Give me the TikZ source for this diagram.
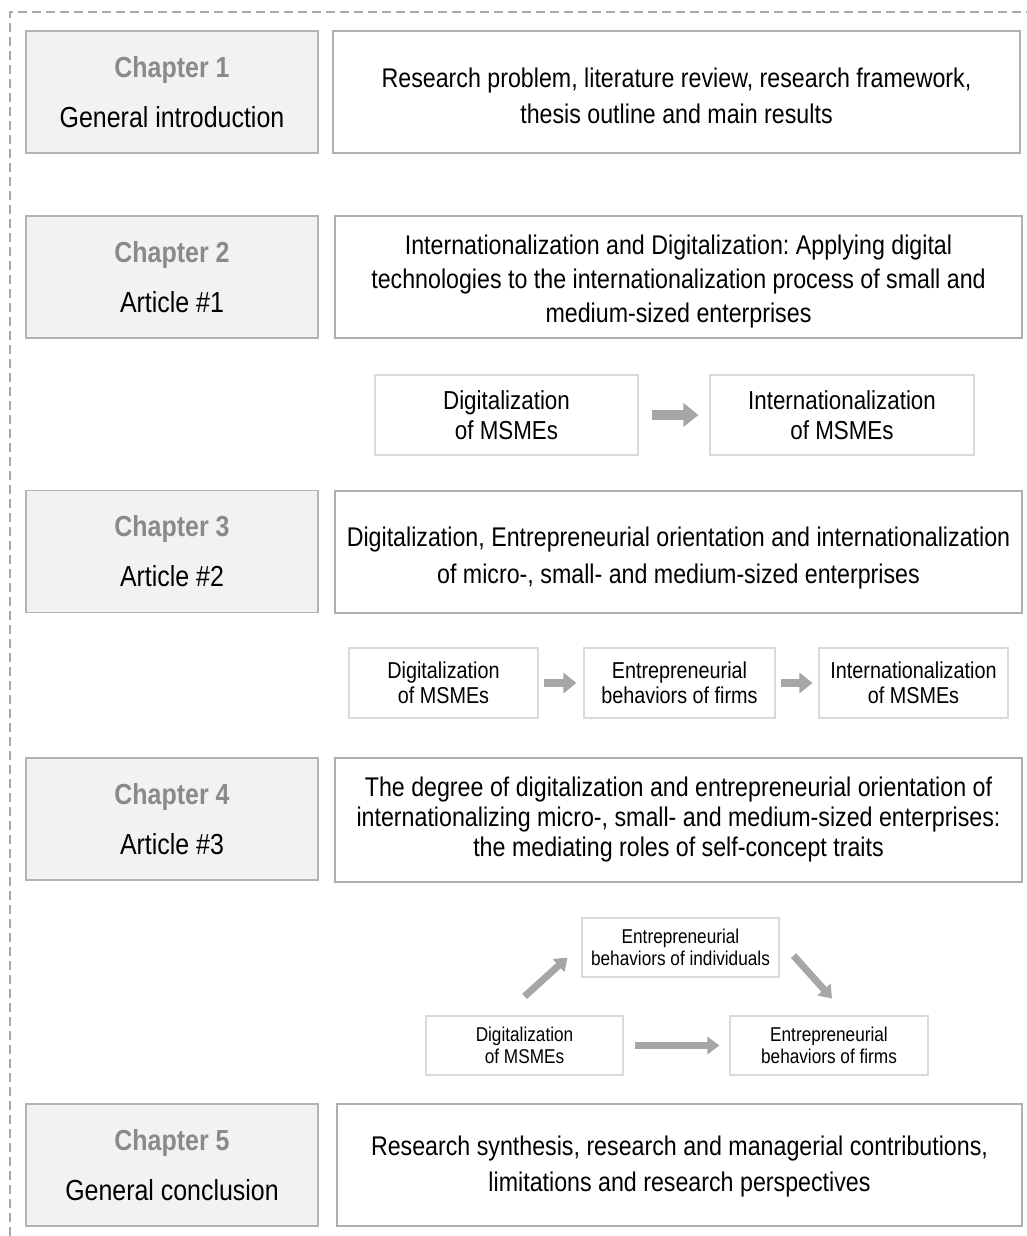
\documentclass[tikz,border=0pt]{standalone}
\usepackage{fontspec}
\setmainfont{Liberation Sans}[FakeStretch=0.86]
\usetikzlibrary{arrows.meta,calc}
\frenchspacing
\definecolor{chapfill}{HTML}{F2F2F2}
\definecolor{chapline}{HTML}{B4B4B4}
\definecolor{chaptext}{HTML}{8A8A8A}
\definecolor{boxline}{HTML}{B0B0B0}
\definecolor{smallline}{HTML}{DADADA}
\definecolor{arrowgray}{HTML}{A6A6A6}
\definecolor{framegray}{HTML}{A8A8A8}
\tikzset{
  chapbox/.style={draw=chapline, fill=chapfill, line width=1.3pt, inner sep=0pt, align=center,
    minimum width=292pt, minimum height=122pt, font=\fontsize{29}{50}\selectfont, text=black},
  mainbox/.style={draw=boxline, line width=1.3pt, inner sep=0pt, align=center,
    minimum width=687pt, minimum height=122pt, text=black},
  smallbox/.style={draw=smallline, line width=1.1pt, inner sep=0pt, align=center, text=black},
  bigarrow/.style={draw=arrowgray, line width=10pt, -{Triangle[length=15pt,width=23pt]}},
  medarrow/.style={draw=arrowgray, line width=8.5pt, -{Triangle[length=13pt,width=20pt]}},
  diagarrow/.style={draw=arrowgray, line width=7pt, -{Triangle[length=12pt,width=17pt]}},
  frameline/.style={draw=framegray, line width=1.1pt, dash pattern=on 9pt off 5pt}
}
\newcommand{\chapname}[1]{{\color{chaptext}\bfseries #1}}
\newcommand{\lift}[1]{\rule{0pt}{#1}}
\begin{document}
\begin{tikzpicture}[x=1pt,y=-1pt]
\useasboundingbox (0,0) rectangle (1027,1236);
% dashed frame
\coordinate (fbl) at (10,1236);
\coordinate (ftl) at (10,12);
\coordinate (ftr) at (1027,12);
\draw[frameline] (fbl) -- (ftl) -- (ftr);

% Chapter 1
\node[chapbox] (c1) at (172,92) {\chapname{Chapter 1}\\General introduction};
\node[mainbox, font=\fontsize{27}{36}\selectfont] (t1) at (676.5,92)
  {\lift{28pt}Research problem, literature review, research framework,\\thesis outline and main results};

% Chapter 2
\node[chapbox] (c2) at (172,277) {\chapname{Chapter 2}\\Article \#1};
\node[mainbox, font=\fontsize{27}{34}\selectfont] (t2) at (678.5,277)
  {\lift{28pt}Internationalization and Digitalization: Applying digital\\technologies to the internationalization process of small and\\medium-sized enterprises};
\node[smallbox, minimum width=263pt, minimum height=80pt, font=\fontsize{26}{30}\selectfont] (a1) at (506.5,415)
  {Digitalization\\of MSMEs};
\node[smallbox, minimum width=264pt, minimum height=80pt, font=\fontsize{26}{30}\selectfont] (a2) at (842,415)
  {Internationalization\\of MSMEs};
\draw[bigarrow, shorten <=13pt, shorten >=11pt] (a1) -- (a2);

% Chapter 3
\node[chapbox] (c3) at (172,551.5) {\chapname{Chapter 3}\\Article \#2};
\node[mainbox, font=\fontsize{27}{37}\selectfont] (t3) at (678.5,552)
  {\lift{31pt}Digitalization, Entrepreneurial orientation and internationalization\\of micro-, small- and medium-sized enterprises};
\node[smallbox, minimum width=189pt, minimum height=70pt, font=\fontsize{23}{25}\selectfont] (b1) at (443.5,683)
  {Digitalization\\of MSMEs};
\node[smallbox, minimum width=191pt, minimum height=70pt, font=\fontsize{23}{25}\selectfont] (b2) at (679.5,683)
  {Entrepreneurial\\behaviors of firms};
\node[smallbox, minimum width=189pt, minimum height=70pt, font=\fontsize{23}{25}\selectfont] (b3) at (913.5,683)
  {Internationalization\\of MSMEs};
\draw[medarrow, shorten <=5pt, shorten >=7pt] (b1) -- (b2);
\draw[medarrow, shorten <=5pt, shorten >=6pt] (b2) -- (b3);

% Chapter 4
\node[chapbox] (c4) at (172,819) {\chapname{Chapter 4}\\Article \#3};
\node[mainbox, minimum height=124pt, font=\fontsize{27}{30}\selectfont] (t4) at (678.5,820)
  {The degree of digitalization and entrepreneurial orientation of\\internationalizing micro-, small- and medium-sized enterprises:\\the mediating roles of self-concept traits};
\node[smallbox, minimum width=197pt, minimum height=59pt, font=\fontsize{20}{22}\selectfont] (d2) at (680.5,947.5)
  {Entrepreneurial\\behaviors of individuals};
\node[smallbox, minimum width=197pt, minimum height=59pt, font=\fontsize{20}{22}\selectfont] (d1) at (524.5,1045.5)
  {Digitalization\\of MSMEs};
\node[smallbox, minimum width=198pt, minimum height=59pt, font=\fontsize{20}{22}\selectfont] (d3) at (829,1045.5)
  {Entrepreneurial\\behaviors of firms};
\draw[diagarrow] ([shift={(0,-19)}]d1.north) -- ([shift={(-14,-20)}]d2.south west);
\draw[diagarrow] ([shift={(14,-22)}]d2.south east) -- ([shift={(3,-17)}]d3.north);
\draw[diagarrow, shorten <=11pt, shorten >=10pt] (d1) -- (d3);

% Chapter 5
\node[chapbox] (c5) at (172,1165) {\chapname{Chapter 5}\\General conclusion};
\node[mainbox, minimum width=685pt, font=\fontsize{27}{36}\selectfont] (t5) at (679.5,1165)
  {\lift{23pt}Research synthesis, research and managerial contributions,\\limitations and research perspectives};
\end{tikzpicture}
\end{document}
